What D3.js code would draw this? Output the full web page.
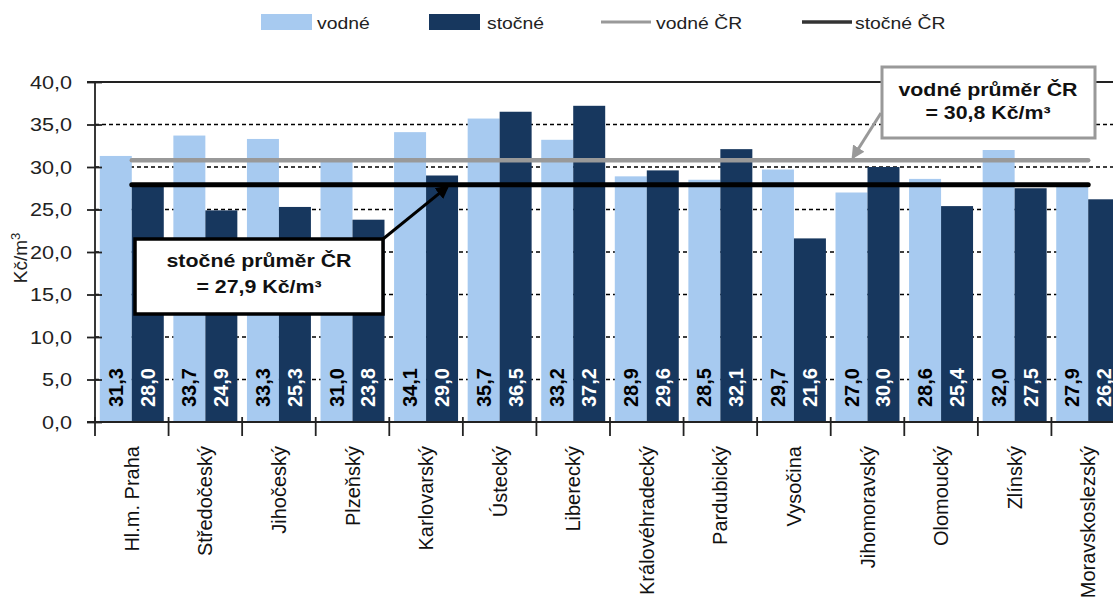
<!DOCTYPE html>
<html><head><meta charset="utf-8">
<script src="https://cdn.jsdelivr.net/npm/d3@7"></script>
<style>
html,body{margin:0;padding:0;background:#fff;}
svg{display:block;font-family:"Liberation Sans",Arial,sans-serif;}
</style></head>
<body>
<svg id="chart" width="1113" height="608"></svg>
<script>
const categories = ["Hl.m. Praha","Středočeský","Jihočeský","Plzeňský","Karlovarský","Ústecký","Liberecký","Královéhradecký","Pardubický","Vysočina","Jihomoravský","Olomoucký","Zlínský","Moravskoslezský"];
const vodne = [31.3,33.7,33.3,31.0,34.1,35.7,33.2,28.9,28.5,29.7,27.0,28.6,32.0,27.9];
const stocne = [28.0,24.9,25.3,23.8,29.0,36.5,37.2,29.6,32.1,21.6,30.0,25.4,27.5,26.2];
const vodneCR = 30.8;
const stocneCR = 27.9;
const yTicks = [0,5,10,15,20,25,30,35,40];
const seriesNames = ["vodné","stočné"];
const legendLabels = ["vodné","stočné","vodné ČR","stočné ČR"];
const noteVodne = ["vodné průměr ČR","= 30,8 Kč/m³"];
const noteStocne = ["stočné průměr ČR","= 27,9 Kč/m³"];

const C_LIGHT = "#A7CAF0", C_DARK = "#17375E", C_GRAY = "#999999", C_BLACK = "#000";
const fmt = v => d3.format(".1f")(v).replace(".", ",");

const svg = d3.select("#chart");
const L = 95, R = 1125, T = 82, B = 422;
const x = d3.scaleBand().domain(categories).range([L, R]).padding(0);
const x1 = d3.scaleBand().domain(seriesNames).range([0, x.bandwidth()]).paddingInner(0).paddingOuter(0.15);
const y = d3.scaleLinear().domain([0, 40]).range([B, T]);

// gridlines
svg.append("g").selectAll("line").data(yTicks.filter(t => t > 0 && t < 40)).join("line")
  .attr("x1", L).attr("x2", R).attr("y1", d => y(d)).attr("y2", d => y(d))
  .attr("stroke", "#000").attr("stroke-width", 1.3).attr("stroke-dasharray", "4,3");
svg.append("line").attr("x1", L - 8).attr("x2", R).attr("y1", y(40)).attr("y2", y(40))
  .attr("stroke", "#222").attr("stroke-width", 1.8);

// bars
const rows = categories.map((c, i) => ({c, vals: [{k: "vodné", v: vodne[i]}, {k: "stočné", v: stocne[i]}]}));
const grp = svg.append("g").selectAll("g").data(rows).join("g")
  .attr("transform", d => `translate(${x(d.c)},0)`);
grp.selectAll("rect").data(d => d.vals).join("rect")
  .attr("x", d => x1(d.k)).attr("width", x1.bandwidth())
  .attr("y", d => y(d.v)).attr("height", d => y(0) - y(d.v))
  .attr("fill", d => d.k === "vodné" ? C_LIGHT : C_DARK);
grp.selectAll("text").data(d => d.vals).join("text")
  .attr("transform", d => `translate(${x1(d.k) + x1.bandwidth() / 2 + 7},${y(0) - 15}) rotate(-90)`)
  .attr("font-size", 20).attr("font-weight", "bold")
  .attr("fill", d => d.k === "vodné" ? "#000" : "#fff")
  .text(d => fmt(d.v));

// y axis
const ya = svg.append("g").attr("transform", `translate(${L},0)`)
  .call(d3.axisLeft(y).tickValues(yTicks).tickSize(7).tickFormat(fmt));
ya.select(".domain").attr("stroke", "#222").attr("stroke-width", 1.8).attr("d", `M0,${y(0)}V${y(40)}`);
ya.selectAll(".tick line").attr("x1", -8).attr("x2", 7).attr("stroke", "#222").attr("stroke-width", 1.8);
ya.selectAll(".tick text").attr("x", 0).attr("dy", null).attr("dominant-baseline", "central")
  .attr("transform", "translate(-23,0) scale(1.2,1)")
  .attr("font-size", 18).attr("font-family", "Liberation Sans, Arial, sans-serif").attr("fill", "#222");

// y title
const yt = svg.append("text").attr("transform", `translate(27,${258}) rotate(-90)`)
  .attr("text-anchor", "middle").attr("font-size", 19).attr("fill", "#222");
yt.append("tspan").text("Kč/m");
yt.append("tspan").attr("font-size", 13).attr("dy", -7).text("3");

// x axis
const xa = svg.append("g").attr("transform", `translate(0,${B})`)
  .call(d3.axisBottom(x).tickSize(0).tickFormat(""));
xa.select(".domain").attr("stroke", "#222").attr("stroke-width", 1.8).attr("d", `M${L - 8},0H${R}`);
const bounds = categories.map(c => x(c)).concat([R]);
svg.append("g").selectAll("line").data(bounds).join("line")
  .attr("x1", d => d).attr("x2", d => d).attr("y1", B - 5).attr("y2", B + 14)
  .attr("stroke", "#222").attr("stroke-width", 1.8);
svg.append("g").selectAll("text").data(categories).join("text")
  .attr("transform", d => `translate(${x(d) + x.bandwidth() / 2 + 7},${B + 24}) rotate(-90)`)
  .attr("text-anchor", "end").attr("font-size", 20).attr("fill", "#111").text(d => d);

// average lines
const cx0 = x(categories[0]) + x.bandwidth() / 2, cx1 = x(categories[categories.length - 1]) + x.bandwidth() / 2;
svg.append("line").attr("x1", cx0).attr("x2", cx1).attr("y1", y(vodneCR)).attr("y2", y(vodneCR))
  .attr("stroke", C_GRAY).attr("stroke-width", 4.5).attr("stroke-linecap", "round");
svg.append("line").attr("x1", cx0).attr("x2", cx1).attr("y1", y(stocneCR)).attr("y2", y(stocneCR))
  .attr("stroke", C_BLACK).attr("stroke-width", 5).attr("stroke-linecap", "round");

// arrow markers
const defs = svg.append("defs");
[["arrK", C_BLACK], ["arrG", C_GRAY]].forEach(([id, col]) => {
  defs.append("marker").attr("id", id).attr("viewBox", "0 0 10 10").attr("refX", 8).attr("refY", 5)
    .attr("markerWidth", 4.5).attr("markerHeight", 4.5).attr("orient", "auto")
    .append("path").attr("d", "M0,0L10,5L0,10z").attr("fill", col);
});

// annotation stočné
svg.append("line").attr("x1", 383).attr("y1", 239).attr("x2", x(categories[4]) + 58).attr("y2", y(stocneCR) + 2)
  .attr("stroke", C_BLACK).attr("stroke-width", 3).attr("marker-end", "url(#arrK)");
svg.append("rect").attr("x", 135).attr("y", 239).attr("width", 248).attr("height", 75)
  .attr("fill", "#fff").attr("stroke", "#000").attr("stroke-width", 3.5);
noteStocne.forEach((t, i) => {
  svg.append("text").attr("transform", `translate(259,${267 + i * 26}) scale(1.22,1)`)
    .attr("text-anchor", "middle").attr("font-size", 17.5).attr("font-weight", "bold").attr("fill", "#111").text(t);
});

// annotation vodné
svg.append("line").attr("x1", 881).attr("y1", 113).attr("x2", 853).attr("y2", y(vodneCR) - 3)
  .attr("stroke", C_GRAY).attr("stroke-width", 3).attr("marker-end", "url(#arrG)");
svg.append("rect").attr("x", 882).attr("y", 67).attr("width", 213).attr("height", 71)
  .attr("fill", "#fff").attr("stroke", C_GRAY).attr("stroke-width", 3);
noteVodne.forEach((t, i) => {
  svg.append("text").attr("transform", `translate(988,${96 + i * 23}) scale(1.22,1)`)
    .attr("text-anchor", "middle").attr("font-size", 17.5).attr("font-weight", "bold").attr("fill", "#111").text(t);
});

// legend
const lg = svg.append("g");
const legX = [261, 429, 601, 802];
const legTextX = [317, 487, 656, 855];
legendLabels.forEach((lab, i) => {
  if (i < 2) {
    lg.append("rect").attr("x", legX[i]).attr("y", 14).attr("width", 51).attr("height", 16)
      .attr("fill", i === 0 ? C_LIGHT : C_DARK);
  } else {
    lg.append("line").attr("x1", legX[i]).attr("x2", legX[i] + 50).attr("y1", 22).attr("y2", 22)
      .attr("stroke", i === 2 ? C_GRAY : "#333").attr("stroke-width", i === 2 ? 3 : 3.5);
  }
  lg.append("text").attr("transform", `translate(${legTextX[i]},29) scale(1.14,1)`)
    .attr("font-size", 17).attr("fill", "#222").text(lab);
});
</script>
</body></html>
